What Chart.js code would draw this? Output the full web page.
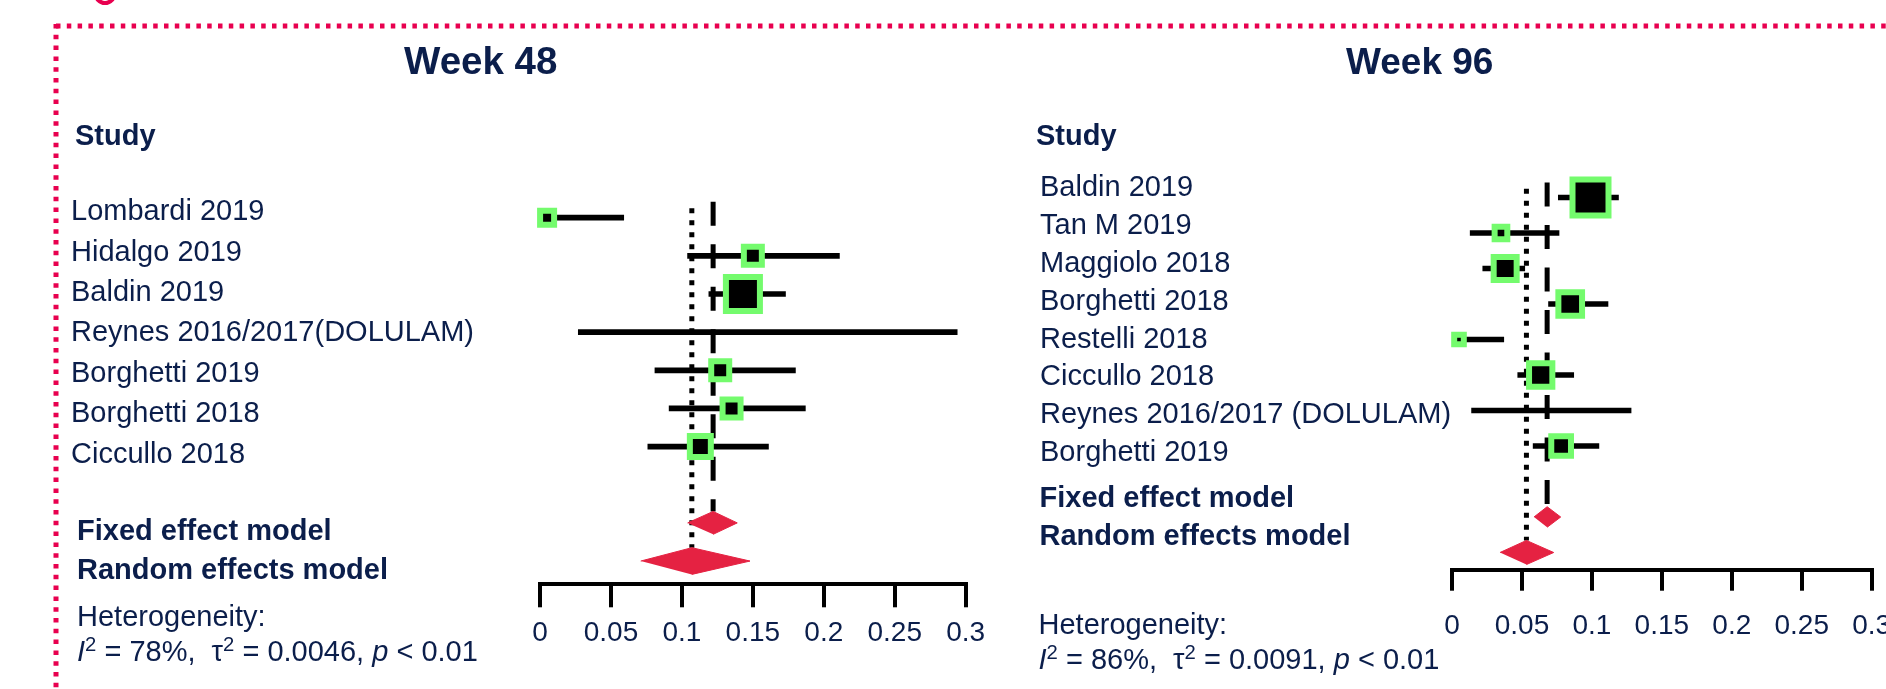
<!DOCTYPE html>
<html>
<head>
<meta charset="utf-8">
<title>Forest plots - Week 48 / Week 96</title>
<script src="https://cdn.jsdelivr.net/npm/chart.js@4.4.1/dist/chart.umd.min.js"></script>
<style>
  html, body { margin: 0; padding: 0; background: #fff; }
  body { width: 1886px; height: 689px; overflow: hidden; position: relative;
         font-family: 'Liberation Sans', Arial, sans-serif; color: #0b1e4b; }
  canvas { position: absolute; top: 0; }
  #frame { position: absolute; left: 0; top: 0; }
  .t { position: absolute; white-space: nowrap; }
  .t sup { font-size: 0.7em; position: relative; top: -0.5em; vertical-align: baseline; }
</style>
</head>
<body>
<svg id="frame" width="1886" height="689">
  <path d="M97,-1 Q105,7 113,-1" fill="none" stroke="#e8004f" stroke-width="4"/>
  <line x1="56" y1="26" x2="1886" y2="26" stroke="#e8004f" stroke-width="5" stroke-dasharray="4.5 6.3"/>
  <line x1="56" y1="24" x2="56" y2="689" stroke="#e8004f" stroke-width="5" stroke-dasharray="4.5 6.3"/>
</svg>
<canvas id="week48" width="1010" height="689" style="left:0px"></canvas>
<canvas id="week96" width="920" height="689" style="left:1010px"></canvas>
<div id="labels"></div>
<script>
// x axis (proportion)
const tickValues = [0, 0.05, 0.1, 0.15, 0.2, 0.25, 0.3];
const tickLabels = ['0', '0.05', '0.1', '0.15', '0.2', '0.25', '0.3'];

// Week 48
const studies48 = ['Lombardi 2019', 'Hidalgo 2019', 'Baldin 2019', 'Reynes 2016/2017(DOLULAM)',
                   'Borghetti 2019', 'Borghetti 2018', 'Ciccullo 2018'];
const est48    = [0.005, 0.150, 0.143, null,  0.127, 0.135, 0.113];
const lower48  = [0,     0.104, 0.119, 0.027, 0.081, 0.091, 0.076];
const upper48  = [0.059, 0.211, 0.173, 0.294, 0.180, 0.187, 0.161];
const weight48 = [7.1,   11.7,  41.8,  null,  11.7,  11.7,  15.9];
const fixed48  = [0.104, 0.122, 0.139];   // lower, estimate, upper
const random48 = [0.071, 0.107, 0.148];
const hetero48 = ['78%', '0.0046', '0.01'];

// Week 96
const studies96 = ['Baldin 2019', 'Tan M 2019', 'Maggiolo 2018', 'Borghetti 2018', 'Restelli 2018',
                   'Ciccullo 2018', 'Reynes 2016/2017 (DOLULAM)', 'Borghetti 2019'];
const est96    = [0.099, 0.035,  0.038, 0.0845, 0.005, 0.0634, null,  0.078];
const lower96  = [0.076, 0.013,  0.022, 0.069,  0,     0.047,  0.014, 0.058];
const upper96  = [0.119, 0.0765, 0.052, 0.1115, 0.037, 0.087,  0.128, 0.105];
const weight96 = [36.3,  4.5,    14.8,  15.7,   2.6,   15.2,   null,  10.9];
const fixed96  = [0.0586, 0.068,  0.0777];
const random96 = [0.0343, 0.0532, 0.0727];
const hetero96 = ['86%', '0.0091', '0.01'];

const NAVY = '#0b1e4b';
const GREEN = '#74fb6d';
const RED = '#e52242';
const FONT = "'Liberation Sans', Arial, sans-serif";

function buildForest(canvasId, p) {
    const ctx = document.getElementById(canvasId);
    const n = p.studies.length;
    const rows = p.studies.map((_, i) => i);
    const shown = rows.filter(i => p.est[i] !== null);
    const fixedRow = n + 1;
    const randomRow = n + 2;

    const diamond = (ci, row, h) => [
        { x: ci[0], y: row }, { x: ci[1], y: row - h }, { x: ci[2], y: row }, { x: ci[1], y: row + h }
    ];
    const vline = (v, from, to) => [{ x: v, y: from }, { x: v, y: to }];

    return new Chart(ctx, {
        type: 'scatter',
        data: {
            datasets: [
                {   // study estimates, size from weight
                    type: 'scatter',
                    data: shown.map(i => ({ x: p.est[i], y: i })),
                    pointStyle: 'rect',
                    pointRadius: shown.map(i => p.markerScale * Math.sqrt(p.weight[i]) / Math.SQRT2),
                    pointBackgroundColor: '#000',
                    pointBorderColor: GREEN,
                    pointBorderWidth: 6,
                    order: 0,
                    clip: false,
                },
                {   // confidence intervals
                    type: 'bar',
                    indexAxis: 'y',
                    data: rows.map(i => ({ x: [p.lower[i], p.upper[i]], y: i })),
                    backgroundColor: '#000',
                    borderWidth: 0,
                    barThickness: 5,
                    order: 1,
                    clip: false,
                },
                {
                    type: 'line',
                    data: diamond(p.fixed, fixedRow, p.fixedH),
                    fill: 'shape',
                    backgroundColor: RED,
                    borderColor: RED,
                    borderWidth: 1,
                    pointRadius: 0,
                    order: 2,
                },
                {
                    type: 'line',
                    data: diamond(p.random, randomRow, p.randomH),
                    fill: 'shape',
                    backgroundColor: RED,
                    borderColor: RED,
                    borderWidth: 1,
                    pointRadius: 0,
                    order: 2,
                },
                {   // fixed effect reference
                    type: 'line',
                    data: vline(p.fixed[1], -0.42, fixedRow - p.fixedH),
                    borderColor: '#000',
                    borderWidth: 5,
                    borderDash: [24, 18.5],
                    borderCapStyle: 'butt',
                    pointRadius: 0,
                    fill: false,
                    order: 3,
                },
                {   // random effects reference
                    type: 'line',
                    data: vline(p.random[1], -0.25, randomRow - p.randomH),
                    borderColor: '#000',
                    borderWidth: 5,
                    borderDash: [5, 7],
                    borderCapStyle: 'butt',
                    pointRadius: 0,
                    fill: false,
                    order: 3,
                },
            ]
        },
        options: {
            responsive: false,
            maintainAspectRatio: false,
            animation: false,
            events: [],
            devicePixelRatio: 1,
            layout: {
                padding: {
                    left: p.plotLeft - p.offset,
                    right: ctx.width - (p.plotRight - p.offset),
                    top: p.row0Y - p.rowStep,
                    bottom: 0
                }
            },
            plugins: {
                legend: { display: false },
                tooltip: { enabled: false }
            },
            scales: {
                x: {
                    type: 'linear',
                    min: 0,
                    max: 0.3,
                    offset: false,
                    afterBuildTicks: (s) => { s.ticks = tickValues.map(v => ({ value: v })); },
                    afterFit: (s) => { s.height = ctx.height - p.axisY; },
                    grid: {
                        drawOnChartArea: false,
                        drawTicks: true,
                        tickLength: p.tickLen,
                        tickWidth: 4,
                        tickColor: '#000',
                        lineWidth: 4,
                        offset: false
                    },
                    border: { display: true, width: 4, color: '#000' },
                    ticks: {
                        autoSkip: false,
                        maxRotation: 0,
                        padding: p.labelPad,
                        color: NAVY,
                        font: { family: FONT, size: 28 },
                        callback: (v, i) => tickLabels[i]
                    }
                },
                y: {
                    type: 'linear',
                    reverse: true,
                    min: -1,
                    max: (p.axisY - p.row0Y) / p.rowStep,
                    offset: false,
                    display: false,
                    grid: { offset: false }
                }
            }
        }
    });
}

// text around the plots
const labelBox = document.getElementById('labels');

function addText(html, left, baseline, size, bold) {
    const d = document.createElement('div');
    d.className = 't';
    d.innerHTML = html;
    d.style.left = left + 'px';
    d.style.top = (baseline - 0.8465 * size) + 'px';
    d.style.fontSize = size + 'px';
    d.style.lineHeight = size + 'px';
    d.style.fontWeight = bold ? '700' : '400';
    labelBox.appendChild(d);
}

function addPanelText(studies, hetero, t) {
    addText(t.title, t.titleX, t.titleY, t.titleSize, true);
    addText('Study', t.headX, 146, 29, true);
    studies.forEach((s, i) => addText(s, t.nameX, t.name0 + t.nameStep * i, 29, false));
    addText('Fixed effect model', t.modelX, t.fixedY, 29, true);
    addText('Random effects model', t.modelX, t.randomY, 29, true);
    addText('Heterogeneity:', t.hetX, t.hetY, 29, false);
    addText('<i>I</i><sup>2</sup> = ' + hetero[0] + ',&nbsp; \u03c4<sup>2</sup> = ' + hetero[1] +
            ', <i>p</i> &lt; ' + hetero[2], t.hetX, t.hetY + 35, 29, false);
}

buildForest('week48', {
    studies: studies48, est: est48, lower: lower48, upper: upper48, weight: weight48,
    fixed: fixed48, random: random48,
    offset: 0, plotLeft: 540, plotRight: 965.7,
    row0Y: 217.7, rowStep: 38.15, axisY: 583.8,
    tickLen: 23.5, labelPad: 9, markerScale: 5.26, fixedH: 0.30, randomH: 0.35
});

buildForest('week96', {
    studies: studies96, est: est96, lower: lower96, upper: upper96, weight: weight96,
    fixed: fixed96, random: random96,
    offset: 1010, plotLeft: 1452, plotRight: 1871.7,
    row0Y: 197.5, rowStep: 35.5, axisY: 569.7,
    tickLen: 21, labelPad: 19, markerScale: 5.975, fixedH: 0.29, randomH: 0.34
});

addPanelText(studies48, hetero48, {
    title: 'Week 48', titleX: 404, titleY: 75, titleSize: 38.5,
    headX: 75, nameX: 71, name0: 220.7, nameStep: 40.43,
    modelX: 77, fixedY: 541, randomY: 580, hetX: 77, hetY: 626.7
});

addPanelText(studies96, hetero96, {
    title: 'Week 96', titleX: 1346, titleY: 74, titleSize: 37,
    headX: 1036, nameX: 1040, name0: 196.7, nameStep: 37.86,
    modelX: 1039.5, fixedY: 507.3, randomY: 546, hetX: 1038.5, hetY: 635
});
</script>
</body>
</html>
